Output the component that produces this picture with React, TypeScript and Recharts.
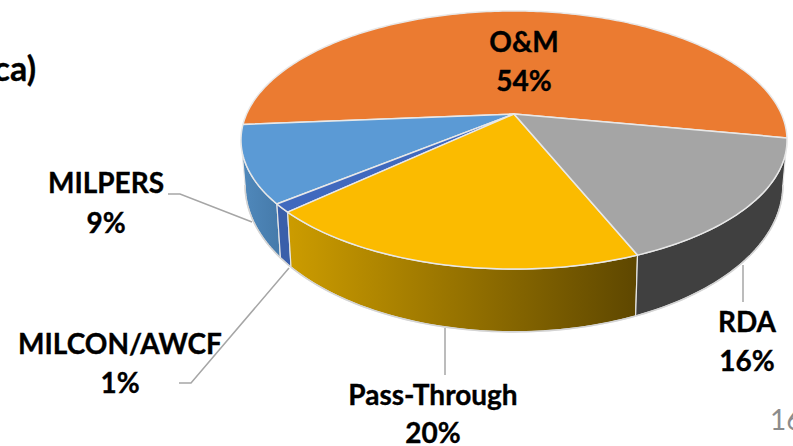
import React from "react";
import { PieChart, Pie, Cell } from "recharts";

// Slice sizes, in drawing order
const categories = ["O&M", "MILPERS", "MILCON/AWCF", "Pass-Through", "RDA"];
const sliceShares = [54.3, 9.6, 1.05, 19.15, 15.9];
const printedPercents = ["54%", "9%", "1%", "20%", "16%"];

const topColors = ["#EB7B31", "#5B9AD5", "#4069BE", "#FBBB00", "#A5A5A5"];
const wallFrom = ["#B85F25", "#5089BC", "#3A5FAA", "#CC9C00", "#404040"];
const wallTo = ["#B85F25", "#457AAA", "#3A5FAA", "#5E4700", "#404040"];

// Layout of the printed labels: centre x, two baselines, leader polyline
const labelLayout = [
  { x: 524, y1: 52, y2: 91, leader: "" },
  { x: 106, y1: 193, y2: 233, leader: "168,194 180,194 252,222" },
  { x: 120, y1: 354, y2: 393, leader: "179,383 191,383 289,268" },
  { x: 433, y1: 405, y2: 443, leader: "445,328 445,375" },
  { x: 747, y1: 332, y2: 371, leader: "743,265 743,302" },
];

const data = categories.map((name, i) => ({ name, value: sliceShares[i] }));

const FONT = "Lato, 'Open Sans', sans-serif";
const TILT = 0.2016; // perspective strength of the tilted disc
const FLAT = 0.463; // vertical squash
const BOTTOM_SCALE = 0.985;
const DEPTH_BASE = 41.5;
const DEPTH_SLOPE = 17;
const SILHOUETTE = 11.6; // degrees below horizontal where the rim turns to the front

function project(cx: number, cy: number, r: number, deg: number) {
  const t = (deg * Math.PI) / 180;
  const x = Math.cos(t);
  const y = -Math.sin(t);
  const w = 1 - TILT * y;
  return { u: x / w, v: y / w, X: cx + (r * x) / w, Y: cy + (r * FLAT * y) / w };
}

function topPoint(cx: number, cy: number, r: number, deg: number) {
  const p = project(cx, cy, r, deg);
  return [p.X, p.Y];
}

function bottomPoint(cx: number, cy: number, r: number, deg: number) {
  const p = project(cx, cy, r, deg);
  return [cx + r * BOTTOM_SCALE * p.u, p.Y + DEPTH_BASE + DEPTH_SLOPE * p.v];
}

function arc(fn: typeof topPoint, cx: number, cy: number, r: number, a: number, b: number) {
  const pts: number[][] = [];
  const n = Math.max(2, Math.ceil(Math.abs(b - a)));
  for (let i = 0; i <= n; i++) pts.push(fn(cx, cy, r, a + ((b - a) * i) / n));
  return pts;
}

const toD = (pts: number[][]) =>
  pts.map((p, i) => `${i ? "L" : "M"}${p[0].toFixed(2)},${p[1].toFixed(2)}`).join("");

function ExtrudedSector(props: any) {
  const { cx, cy, outerRadius: r, startAngle, endAngle, fill, index } = props;
  const lo = Math.min(startAngle, endAngle);
  const hi = Math.max(startAngle, endAngle);
  const wallA = Math.max(lo, 180 + SILHOUETTE);
  const wallB = Math.min(hi, 360 - SILHOUETTE);
  const hasWall = wallB > wallA;
  const topArc = arc(topPoint, cx, cy, r, lo, hi);
  const id = `wall-${index}`;
  let wall = "";
  let rim = "";
  if (hasWall) {
    const t = arc(topPoint, cx, cy, r, wallA, wallB);
    const b = arc(bottomPoint, cx, cy, r, wallA, wallB);
    wall = toD([...t, ...b.reverse()]) + "Z";
    rim = toD(arc(bottomPoint, cx, cy, r, wallA, wallB));
  }
  return (
    <g>
      {hasWall && (
        <>
          <defs>
            <linearGradient id={id} x1="0" y1="0" x2="1" y2="0">
              <stop offset="0" stopColor={wallFrom[index]} />
              <stop offset="1" stopColor={wallTo[index]} />
            </linearGradient>
          </defs>
          <path d={wall} fill={`url(#${id})`} stroke="#E6E6E6" strokeWidth={1.2} strokeLinejoin="round" />
          <path d={rim} fill="none" stroke="#D4D4D4" strokeWidth={1.6} />
        </>
      )}
      <path
        d={toD([[cx, cy], ...topArc]) + "Z"}
        fill={fill}
        stroke="#E8E8E8"
        strokeWidth={1.5}
        strokeLinejoin="round"
      />
    </g>
  );
}

const textStyle = { stroke: "#000", strokeWidth: 0.35 };

function renderLabel(props: any) {
  const i = props.index;
  const l = labelLayout[i];
  return (
    <g key={i}>
      {l.leader && <polyline points={l.leader} fill="none" stroke="#A6A6A6" strokeWidth={1.5} />}
      <text x={l.x} y={l.y1} textAnchor="middle" fontFamily={FONT} fontWeight={700} fontSize={28} fill="#000" style={textStyle}>
        {categories[i]}
      </text>
      <text x={l.x} y={l.y2} textAnchor="middle" fontFamily={FONT} fontWeight={700} fontSize={28} fill="#000" style={textStyle}>
        {printedPercents[i]}
      </text>
    </g>
  );
}

export default function App() {
  return (
    <div style={{ position: "absolute", left: 0, top: 0, width: 793, height: 446, overflow: "hidden", background: "#fff" }}>
      <PieChart width={793} height={446} margin={{ top: 0, right: 0, bottom: 0, left: 0 }}>
        <Pie
          data={data}
          dataKey="value"
          nameKey="name"
          cx={514}
          cy={114}
          outerRadius={267.4}
          innerRadius={0}
          startAngle={-10.7}
          endAngle={349.3}
          isAnimationActive={false}
          stroke="none"
          shape={ExtrudedSector}
          label={renderLabel}
          labelLine={false}
        >
          {categories.map((c, i) => (
            <Cell key={c} fill={topColors[i]} />
          ))}
        </Pie>
        <text x={36} y={81} textAnchor="end" fontFamily={FONT} fontWeight={700} fontSize={34} fill="#000" style={textStyle}>
          ca)
        </text>
        <text x={770} y={430} fontFamily={FONT} fontSize={28} fill="#8C8C8C">
          16
        </text>
      </PieChart>
    </div>
  );
}
